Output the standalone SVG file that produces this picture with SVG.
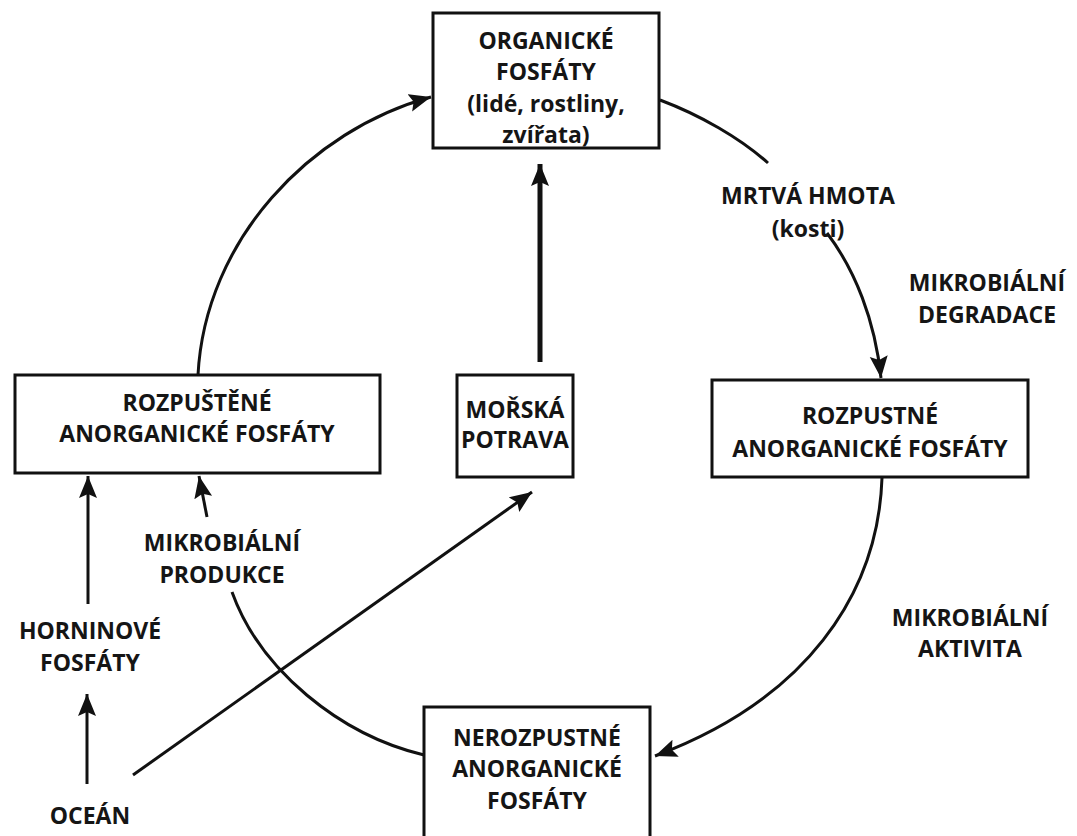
<svg xmlns="http://www.w3.org/2000/svg" width="1077" height="836" viewBox="0 0 1077 836">
<style>
.box{fill:#fff;stroke:#111;stroke-width:3}
.t{font-family:"Open Sans","Liberation Sans",sans-serif;font-weight:700;font-size:23px;fill:#151515;text-anchor:middle;dominant-baseline:central}
.c{fill:none;stroke:#111;stroke-width:3}
</style>
<defs>
<marker id="ah" markerUnits="userSpaceOnUse" markerWidth="24" markerHeight="20" refX="22" refY="9" orient="auto">
<path d="M0,0 L22,9 L0,18 L4,9 Z" fill="#111"/>
</marker>
</defs>
<rect width="1077" height="836" fill="#fff"/>
<g id="connectors">
<path class="c" d="M198,375 C205,240 310,130 431,97" marker-end="url(#ah)"/>
<path class="c" d="M540,362 L540,164" style="stroke-width:5" marker-end="url(#ah)"/>
<path class="c" d="M660,100 C700,115 740,138 768,163"/>
<path class="c" d="M827,233 C855,270 875,320 881,378" marker-end="url(#ah)"/>
<path class="c" d="M882,478 C878,595 805,700 655,756" marker-end="url(#ah)"/>
<path class="c" d="M424,755 C340,735 260,670 232,592"/>
<path class="c" d="M207,517 L199,476" marker-end="url(#ah)"/>
<path class="c" d="M88,604 L88,476" marker-end="url(#ah)"/>
<path class="c" d="M87,784 L87,694" marker-end="url(#ah)"/>
<path class="c" d="M133,775 L532,492" marker-end="url(#ah)"/>
</g>
<g id="organicke">
<rect class="box" x="433" y="13" width="226" height="135"/>
<text class="t" x="546" y="40">ORGANICKÉ</text>
<text class="t" x="546" y="71">FOSFÁTY</text>
<text class="t" x="546" y="103">(lidé, rostliny,</text>
<text class="t" x="546" y="134">zvířata)</text>
</g>
<g id="rozpustene">
<rect class="box" x="15" y="375" width="365" height="98"/>
<text class="t" x="197" y="402">ROZPUŠTĚNÉ</text>
<text class="t" x="197" y="433">ANORGANICKÉ FOSFÁTY</text>
</g>
<g id="morska">
<rect class="box" x="457" y="375" width="116" height="102"/>
<text class="t" x="515" y="409">MOŘSKÁ</text>
<text class="t" x="515" y="439">POTRAVA</text>
</g>
<g id="rozpustne">
<rect class="box" x="712" y="380" width="316" height="97"/>
<text class="t" x="870" y="415">ROZPUSTNÉ</text>
<text class="t" x="870" y="448">ANORGANICKÉ FOSFÁTY</text>
</g>
<g id="nerozpustne">
<rect class="box" x="424" y="707" width="226" height="140"/>
<text class="t" x="537" y="737">NEROZPUSTNÉ</text>
<text class="t" x="537" y="768">ANORGANICKÉ</text>
<text class="t" x="537" y="800">FOSFÁTY</text>
</g>
<g id="labels">
<text class="t" x="808" y="195">MRTVÁ HMOTA</text>
<text class="t" x="808" y="228">(kosti)</text>
<text class="t" x="987" y="282">MIKROBIÁLNÍ</text>
<text class="t" x="987" y="314">DEGRADACE</text>
<text class="t" x="222" y="542">MIKROBIÁLNÍ</text>
<text class="t" x="222" y="574">PRODUKCE</text>
<text class="t" x="90" y="630">HORNINOVÉ</text>
<text class="t" x="90" y="662">FOSFÁTY</text>
<text class="t" x="90" y="815">OCEÁN</text>
<text class="t" x="970" y="617">MIKROBIÁLNÍ</text>
<text class="t" x="970" y="648">AKTIVITA</text>
</g>
</svg>
